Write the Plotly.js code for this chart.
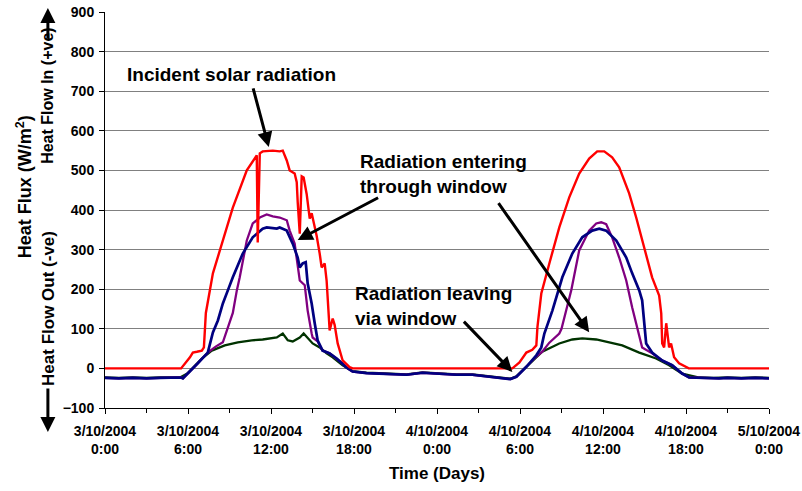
<!DOCTYPE html>
<html>
<head>
<meta charset="utf-8">
<script src="https://cdn.plot.ly/plotly-3.0.1.min.js"></script>
<style>html,body{margin:0;padding:0;background:#fff;}#chart{width:802px;height:491px;}</style>
</head>
<body>
<div id="chart"></div>
<script>
// Time in hours since 3/10/2004 0:00
const tickHours = [0, 6, 12, 18, 24, 30, 36, 42, 48];
const tickLabels = ["3/10/2004<br>0:00", "3/10/2004<br>6:00", "3/10/2004<br>12:00", "3/10/2004<br>18:00",
  "4/10/2004<br>0:00", "4/10/2004<br>6:00", "4/10/2004<br>12:00", "4/10/2004<br>18:00", "5/10/2004<br>0:00"];

// Incident solar radiation (red)
const redHours = [0, 2, 4, 5.5, 6.14, 6.35, 6.64, 7.0, 7.15, 7.22, 7.29, 7.8, 8.52, 9.24, 10.25, 10.83, 10.97, 11.04, 11.19, 11.4,
  12.13, 12.63, 12.85, 13.14, 13.35, 13.71, 13.86, 13.93, 14.08, 14.22, 14.36, 14.58, 14.8, 14.94, 15.3, 15.52, 15.66, 15.88,
  16.02, 16.24, 16.46, 16.6, 16.82, 17.18, 17.68, 17.9, 20, 24, 28, 29.45, 29.96, 30.46, 30.89, 31.18, 31.26, 31.54, 32.12,
  32.84, 33.56, 34.28, 35.0, 35.58, 36.09, 36.66, 37.17, 37.89, 38.4, 39.12, 39.55, 40.06, 40.21, 40.28, 40.42, 40.57, 40.64,
  40.78, 40.92, 41.14, 41.5, 42.0, 42.2, 45, 48];
const redValues = [0, 0, 0, 0, 28, 40, 42, 45, 53, 96, 140, 240, 323, 406, 500, 530, 538, 318, 543, 548,
  550, 548, 550, 525, 500, 492, 470, 420, 340, 485, 482, 440, 378, 392, 335, 290, 255, 265,
  222, 96, 126, 110, 63, 20, 3, 0, 0, 0, 0, 0, 15, 40, 47, 58, 104, 189, 265,
  356, 432, 492, 530, 548, 548, 533, 508, 442, 381, 290, 230, 184, 139, 63, 53, 114, 96,
  53, 63, 28, 13, 3, 0, 0, 0];

// Radiation entering through window (purple)
const purpleHours = [0, 1, 2, 3, 4, 5, 5.49, 5.63, 5.99, 6.71, 7.43, 8.0, 8.52, 8.88, 9.24, 9.53, 9.74, 10.25, 10.68, 11.19,
  11.69, 12.13, 12.63, 13.14, 13.35, 13.71, 13.93, 14.08, 14.44, 14.65, 14.94, 15.01, 15.37, 15.73, 16.24, 16.75, 17.18,
  17.47, 17.9, 18.9, 19.8, 20.57, 21.8, 22.95, 24.18, 25.4, 26.56, 27.79, 28.51, 29.3, 29.74, 30.46, 31.18, 31.61, 32.12,
  32.84, 33.0, 33.35, 33.71, 34.28, 35.0, 35.51, 35.87, 36.23, 36.66, 37.17, 37.68, 38.11, 38.47, 38.83, 39.55, 40.28,
  41.0, 41.72, 42.23, 43, 44.39, 45, 46, 47, 48];
const purpleValues = [-24, -25, -24, -25, -24, -24, -23, -25, -13, 13, 40, 55, 66, 104, 140, 197, 230, 323, 366, 381,
  389, 384, 381, 374, 348, 315, 265, 222, 210, 146, 88, 78, 68, 45, 38, 25, 12,
  2, -8, -12, -13, -14, -16, -11, -14, -16, -16, -21, -24, -27, -21, 4, 30, 42, 65,
  88, 100, 148, 198, 298, 348, 366, 369, 364, 331, 280, 222, 154, 104, 53, 38, 20,
  8, -13, -23, -24, -25, -24, -25, -24, -25];

// Radiation entering through window (dark blue)
const blueHours = [0, 1, 2, 3, 4, 5, 5.49, 5.63, 5.99, 6.71, 7.43, 7.8, 8.16, 8.52, 8.88, 9.24, 9.96, 10.68, 11.4, 11.69,
  12.42, 12.63, 13.14, 13.57, 13.93, 14.08, 14.29, 14.51, 14.65, 14.94, 15.16, 15.37, 15.73, 16.24, 16.75, 17.18, 17.47,
  17.9, 18.9, 19.8, 20.57, 21.8, 22.95, 24.18, 25.4, 26.56, 27.79, 28.51, 29.3, 29.74, 30.46, 31.18, 31.54, 31.76, 32.12,
  32.34, 33.06, 33.78, 34.5, 35.22, 35.73, 36.23, 36.96, 37.68, 38.11, 38.62, 38.83, 39.12, 39.55, 40.28, 41.0, 41.72,
  42.23, 43, 44.39, 45, 46, 47, 48];
const blueValues = [-24, -25, -24, -25, -24, -24, -23, -25, -13, 13, 40, 91, 121, 164, 197, 230, 290, 331, 353, 356,
  353, 356, 348, 315, 280, 255, 265, 268, 215, 164, 114, 71, 45, 38, 25, 12, 2,
  -8, -12, -13, -14, -16, -11, -14, -16, -16, -21, -24, -27, -21, 4, 33, 53, 88, 121,
  146, 230, 290, 331, 348, 353, 348, 323, 280, 240, 197, 172, 63, 40, 20, 8, -13,
  -23, -24, -25, -24, -25, -24, -25];

// Radiation leaving via window (dark green)
const greenHours = [0, 1, 2, 3, 4, 5, 5.49, 5.99, 6.71, 7.0, 7.72, 8.66, 9.6, 10.61, 11.4, 12.13, 12.42, 12.85, 13.21, 13.57,
  14.08, 14.36, 14.65, 15.01, 15.52, 16.02, 16.46, 17.18, 17.9, 18.9, 19.8, 20.57, 21.8, 22.95, 24.18, 25.4, 26.56, 27.79,
  28.51, 29.3, 29.74, 30.46, 31.18, 31.61, 32.84, 33.78, 34.5, 35.51, 36.45, 37.39, 38.62, 39.84, 40.78, 41.72, 42.95,
  44, 45, 46, 47, 48];
const greenValues = [-23, -24, -23, -24, -23, -23, -22, -12, 13, 25, 45, 58, 66, 71, 73, 76, 78, 88, 71, 68,
  78, 88, 76, 63, 53, 38, 28, 8, -7, -11, -12, -13, -15, -10, -13, -15, -15, -20,
  -23, -26, -20, 4, 30, 42, 63, 73, 76, 73, 66, 58, 40, 25, 8, -13, -23,
  -24, -23, -24, -23, -24];

const FONT = "Liberation Sans, Arial, Helvetica, sans-serif";

function line(x, y, color, width) {
  return {x: x, y: y, type: "scatter", mode: "lines", line: {color: color, width: width}, hoverinfo: "skip"};
}

const data = [
  line(greenHours, greenValues, "#003300", 2.3),
  line(purpleHours, purpleValues, "#800080", 2.3),
  line(blueHours, blueValues, "#000080", 2.7),
  line(redHours, redValues, "#FF0000", 2.4)
];

function label(text, x, y) {
  return {text: text, x: x, y: y, xref: "x", yref: "y", showarrow: false, xanchor: "left", yanchor: "middle",
    align: "left", font: {size: 19, color: "#000", family: FONT, weight: "bold"}};
}
function arrow(xh, yh, xt, yt) {
  return {text: "", x: xh, y: yh, ax: xt, ay: yt, xref: "x", yref: "y", axref: "x", ayref: "y",
    showarrow: true, arrowhead: 2, arrowsize: 1, arrowwidth: 3, arrowcolor: "#000"};
}

const annotations = [
  label("Incident solar radiation", 1.44, 741),
  label("Radiation entering<br>through window", 18.26, 492),
  label("Radiation leaving<br>via window", 17.9, 158),
  arrow(11.84, 559, 10.68, 711),
  arrow(13.93, 324, 19.85, 433),
  arrow(35.0, 91, 28.37, 421),
  arrow(29.45, -9, 25.84, 122),
  {text: "Heat Flux (W/m<sup>2</sup>)", textangle: -90, x: -0.122, y: 0.56, xref: "paper", yref: "paper",
    showarrow: false, xanchor: "center", yanchor: "middle", font: {size: 18, family: FONT, weight: "bold", color: "#000"}},
  {text: "Heat Flow In (+ve)", textangle: -90, x: -0.086, y: 0.788, xref: "paper", yref: "paper",
    showarrow: false, xanchor: "center", yanchor: "middle", font: {size: 16, family: FONT, weight: "bold", color: "#000"}},
  {text: "Heat Flow Out (-ve)", textangle: -90, x: -0.086, y: 0.2525, xref: "paper", yref: "paper",
    showarrow: false, xanchor: "center", yanchor: "middle", font: {size: 17, family: FONT, weight: "bold", color: "#000"}},
  {text: "", x: -0.086, y: 1.0101, xref: "paper", yref: "paper", ax: 0, ay: 32, axref: "pixel", ayref: "pixel",
    showarrow: true, arrowhead: 2, arrowsize: 1, arrowwidth: 3, arrowcolor: "#000"},
  {text: "", x: -0.086, y: -0.0606, xref: "paper", yref: "paper", ax: 0, ay: -45, axref: "pixel", ayref: "pixel",
    showarrow: true, arrowhead: 2, arrowsize: 1, arrowwidth: 3, arrowcolor: "#000"}
];

const layout = {
  width: 802, height: 491,
  margin: {l: 105, r: 33, t: 12, b: 83, pad: 0},
  paper_bgcolor: "#fff", plot_bgcolor: "#fff",
  showlegend: false,
  font: {family: FONT, color: "#000", weight: "bold"},
  xaxis: {
    range: [0, 48], tickmode: "array", tickvals: tickHours, ticktext: tickLabels,
    ticks: "outside", ticklen: 5, tickwidth: 1, tickcolor: "#000", ticklabelstandoff: 5,
    showline: true, linecolor: "#000", linewidth: 1, showgrid: false, zeroline: false,
    tickfont: {size: 14, family: FONT, weight: "bold"},
    minor: {dtick: 3, tick0: 0, ticks: "outside", ticklen: 4, tickcolor: "#000", showgrid: false},
    title: {text: "Time (Days)", font: {size: 17, family: FONT, weight: "bold"}, standoff: 11},
    automargin: false, fixedrange: true
  },
  yaxis: {
    range: [-100, 900], tickmode: "linear", tick0: 0, dtick: 100,
    ticks: "outside", ticklen: 5, tickwidth: 1, tickcolor: "#000", ticklabelstandoff: 2,
    showline: true, linecolor: "#000", linewidth: 1,
    showgrid: true, gridcolor: "#808080", gridwidth: 1, zeroline: false,
    tickfont: {size: 14, family: FONT, weight: "bold"},
    automargin: false, fixedrange: true
  },
  annotations: annotations
};

Plotly.newPlot("chart", data, layout, {displayModeBar: false, staticPlot: true});
</script>
</body>
</html>
